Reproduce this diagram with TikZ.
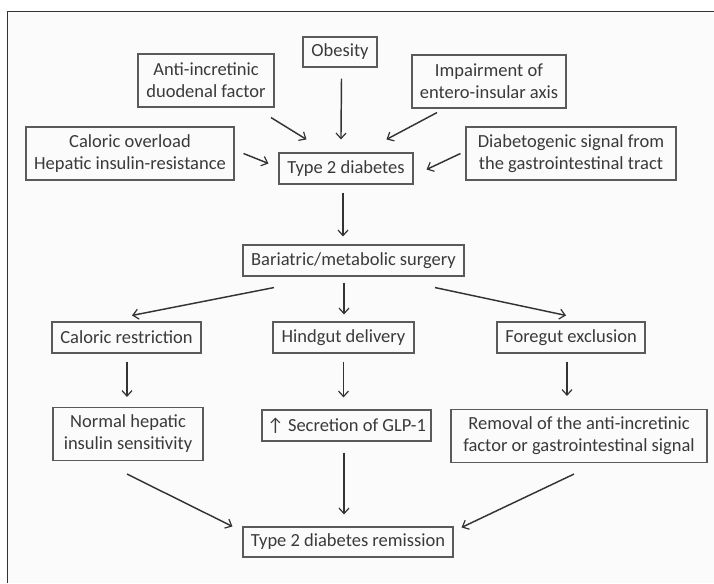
\documentclass[tikz,border=0pt]{standalone}
\usepackage{fontspec}
\setmainfont{Carlito}
\usetikzlibrary{arrows.meta,calc}
\definecolor{boxc}{HTML}{5A5A5A}
\definecolor{arrc}{HTML}{333333}
\definecolor{txtc}{HTML}{3A3A3A}
\definecolor{bgc}{HTML}{FBFBFB}
\begin{document}
\begin{tikzpicture}[x=1pt,y=-1pt,
  box/.style={draw=boxc,line width=1.1pt,inner sep=0pt,align=center,text=txtc,
    font=\fontsize{18.5}{22}\selectfont},
  arr/.style={draw=arrc,line width=1.45pt,-{Straight Barb[length=5.5pt,width=10pt,line width=1.2pt]}}]
\useasboundingbox (0,0) rectangle (714,583);
\fill[bgc] (7,12) rectangle (714,583);
\draw[arrc,line width=1pt] (714,12) -- (7,12) -- (7,583);
% top row
\node[box,minimum width=74pt,minimum height=30pt] (obes) at (340,52) {Obesity};
\node[box,minimum width=136pt,minimum height=53pt] (anti) at (206,80.5) {Anti-incretinic\\duodenal factor};
\node[box,minimum width=154pt,minimum height=53pt] (imp) at (489,81.5) {Impairment of\\entero-insular axis};
\node[box,minimum width=208pt,minimum height=53pt] (cal) at (130,153.5) {Caloric overload\\Hepatic insulin-resistance};
\node[box,minimum width=134pt,minimum height=31pt] (t2d) at (346,168.5) {Type 2 diabetes};
\node[box,minimum width=210pt,minimum height=53pt] (diab) at (571,153.5) {Diabetogenic signal from\\the gastrointestinal tract};
% surgery
\node[box,minimum width=221pt,minimum height=31pt] (bar) at (353.5,260.5) {Bariatric/metabolic surgery};
% mechanisms
\node[box,minimum width=149pt,minimum height=31pt] (calr) at (126.5,337.5) {Caloric restriction};
\node[box,minimum width=141pt,minimum height=31pt] (hind) at (343.5,337.5) {Hindgut delivery};
\node[box,minimum width=148pt,minimum height=31pt] (fore) at (571,337.5) {Foregut exclusion};
% effects
\node[box,minimum width=150pt,minimum height=53pt] (norm) at (128,434) {Normal hepatic\\insulin sensitivity};
\node[box,minimum width=169pt,minimum height=31pt] (sec) at (346.5,425.5) {↑ Secretion of GLP-1};
\node[box,minimum width=256pt,minimum height=53pt] (rem) at (579,436) {Removal of the anti-incretinic\\factor or gastrointestinal signal};
% outcome
\node[box,minimum width=210pt,minimum height=30pt] (remis) at (348,542) {Type 2 diabetes remission};
% arrows into T2D
\draw[arr] ($(anti.south)+(65,10)$) -- ($(t2d.north west)+(28,-13)$);
\draw[arr] ($(obes.south)+(1.5,11)$) -- ($(t2d.north west)+(62.5,-13)$);
\draw[arr] ($(imp.south)+(-52,4)$) -- ($(t2d.north west)+(108,-13)$);
\draw[arr] ($(cal.east)+(9,0)$) -- ($(t2d.west)+(-10,-5)$);
\draw[arr] ($(diab.west)+(-5,0)$) -- ($(t2d.east)+(13,1)$);
% T2D to surgery
\draw[arr] ($(t2d.south)+(-3,8)$) -- ($(bar.north)+(-10.5,-8)$);
% surgery to mechanisms
\draw[arr] ($(bar.south)+(-79.5,11)$) -- ($(calr.north)+(5.5,-6)$);
\draw[arr] ($(bar.south)+(-9.5,6)$) -- ($(hind.north)+(0.5,-7)$);
\draw[arr] ($(bar.south)+(81.5,11)$) -- ($(fore.north)+(-5,-6)$);
% mechanisms to effects
\draw[arr] ($(calr.south)+(0.5,8)$) -- ($(norm.north)+(-1,-10)$);
\draw[arr] ($(hind.south)+(0,8)$) -- ($(sec.north)+(-3,-12)$);
\draw[arr] ($(fore.south)+(-4,8)$) -- ($(rem.north)+(-12,-13)$);
% effects to remission
\draw[arr] ($(norm.south)+(-1,13)$) -- ($(remis.north west)+(-10,0)$);
\draw[arr] ($(sec.south)+(-2.5,11)$) -- ($(remis.north)+(-4,-12)$);
\draw[arr] ($(rem.south)+(-5,11)$) -- ($(remis.north east)+(8,1)$);
\end{tikzpicture}
\end{document}
